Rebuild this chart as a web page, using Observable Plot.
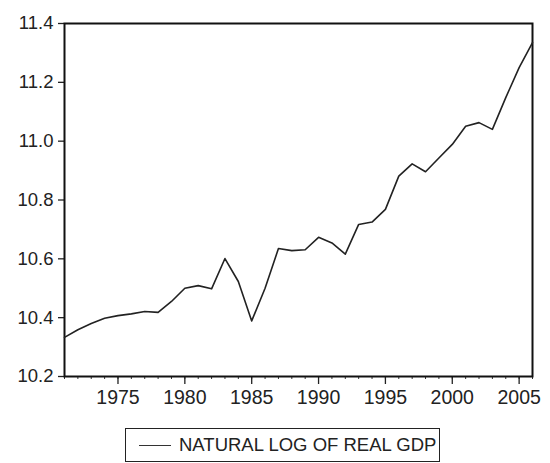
<!DOCTYPE html>
<html>
<head>
<meta charset="utf-8">
<script src="https://cdn.jsdelivr.net/npm/d3@7"></script>
<script src="https://cdn.jsdelivr.net/npm/@observablehq/plot@0.6"></script>
<style>
  html, body { margin: 0; padding: 0; background: #fff; }
  #wrap { position: relative; width: 550px; height: 463px; font-family: "Liberation Sans", Arial, sans-serif; }
  #legend {
    position: absolute; left: 125px; top: 428px; width: 315px; height: 34px;
    border: 1.3px solid #222; box-sizing: border-box;
    display: flex; align-items: center; font-size: 18.5px; color: #222;
  }
  #legend .swatch { width: 32px; height: 0; border-top: 1.3px solid #333; margin: 0 8px 0 13px; }
</style>
</head>
<body>
<div id="wrap"><div id="chart"></div>
<div id="legend"><span class="swatch"></span><span>NATURAL LOG OF REAL GDP</span></div></div>
<script>
const years = d3.range(1971, 2007);
const lnGdp = [
  10.333, 10.359, 10.380, 10.398, 10.407, 10.413, 10.421, 10.418, 10.455, 10.500,
  10.509, 10.498, 10.601, 10.523, 10.389, 10.500, 10.635, 10.628, 10.631, 10.673,
  10.654, 10.616, 10.717, 10.725, 10.768, 10.881, 10.923, 10.896, 10.943, 10.989,
  11.051, 11.063, 11.040, 11.148, 11.250, 11.335
];
const yTicks = [10.2, 10.4, 10.6, 10.8, 11.0, 11.2, 11.4];
const xMajor = [1975, 1980, 1985, 1990, 1995, 2000, 2005];
const data = years.map((y, i) => ({year: y, value: lnGdp[i]}));

const chart = Plot.plot({
  width: 550,
  height: 420,
  marginTop: 23,
  marginLeft: 64,
  marginRight: 18,
  marginBottom: 44,
  style: {fontFamily: "Liberation Sans, Arial, sans-serif", color: "#222", background: "#fff"},
  x: {domain: [1971, 2006]},
  y: {domain: [10.2, 11.4]},
  marks: [
    Plot.axisY({ticks: yTicks, tickFormat: d3.format(".1f"), tickSize: 6, tickPadding: 5, fontSize: 18.5, label: null, stroke: "#222", strokeWidth: 1.3}),
    Plot.axisX({ticks: years, tickFormat: () => "", tickSize: 3, label: null, stroke: "#333"}),
    Plot.axisX({ticks: xMajor, tickFormat: d => String(d), tickSize: 8, tickPadding: 6, fontSize: 19.5, label: null, stroke: "#222", strokeWidth: 1.3}),
    Plot.frame({stroke: "#111", strokeWidth: 2}),
    Plot.line(data, {x: "year", y: "value", stroke: "#222", strokeWidth: 1.6})
  ]
});
document.getElementById("chart").appendChild(chart);
</script>
</body>
</html>
